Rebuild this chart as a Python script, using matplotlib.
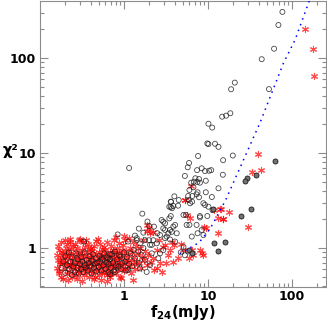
import matplotlib
matplotlib.use("Agg")
import matplotlib.pyplot as plt
from matplotlib.ticker import FixedLocator, NullFormatter, LogLocator
import numpy as np

# red asterisks: (f24 [mJy], chi2)
red_pts = [
    (0.16,0.62),(0.165,0.75),(0.17,0.55),(0.16,0.85),(0.175,0.68),(0.17,0.95),(0.18,0.5),(0.165,1.05),(0.18,0.8),(0.17,0.58),(0.175,0.72),(0.185,0.9),(0.18,1.15),
    (0.19,0.47),(0.2,0.6),(0.195,0.7),(0.2,0.78),(0.19,0.88),(0.205,1.0),(0.2,1.2),(0.21,0.53),(0.21,0.66),(0.205,0.82),(0.215,0.94),(0.217,0.46),(0.21,1.1),(0.2,0.72),
    (0.22,0.58),(0.225,0.68),(0.23,0.76),(0.22,0.87),(0.235,0.98),(0.23,1.25),(0.24,0.5),(0.24,0.63),(0.245,0.72),(0.24,0.84),(0.25,1.06),(0.25,0.55),(0.225,1.15),(0.235,0.66),
    (0.26,0.6),(0.26,0.78),(0.265,0.9),(0.27,0.52),(0.27,0.68),(0.275,1.0),(0.28,0.74),(0.28,0.58),(0.285,0.86),(0.29,0.64),(0.29,1.2),(0.26,1.1),(0.275,0.47),(0.29,0.8),
    (0.3,0.55),(0.3,0.7),(0.31,0.88),(0.31,0.62),(0.32,0.76),(0.323,1.15),(0.32,0.95),(0.33,0.52),(0.33,0.67),(0.335,0.83),(0.34,0.6),(0.34,1.02),(0.3,1.25),(0.315,0.45),
    (0.35,0.72),(0.35,0.56),(0.36,0.9),(0.36,0.65),(0.37,0.8),(0.37,1.1),(0.38,0.5),(0.38,0.62),(0.39,0.75),(0.39,0.97),(0.4,0.58),(0.4,0.85),(0.355,1.2),(0.385,0.68),
    (0.41,0.7),(0.42,0.55),(0.42,0.92),(0.43,0.64),(0.43,0.79),(0.44,1.05),(0.45,0.5),(0.45,0.72),(0.46,0.6),(0.46,0.86),(0.47,1.18),(0.47,0.68),(0.44,0.47),(0.41,1.0),
    (0.48,0.58),(0.49,0.75),(0.5,0.65),(0.5,0.9),(0.51,0.52),(0.52,0.8),(0.52,1.1),(0.53,0.62),(0.54,0.7),(0.54,0.98),(0.55,0.56),(0.55,0.84),(0.49,1.25),(0.53,0.46),
    (0.56,0.66),(0.57,0.78),(0.58,0.55),(0.58,1.02),(0.6,0.7),(0.6,0.88),(0.61,0.6),(0.62,0.75),(0.63,1.15),(0.63,0.52),(0.64,0.82),(0.65,0.64),(0.59,0.95),(0.62,0.45),
    (0.66,0.72),(0.67,0.58),(0.68,0.9),(0.69,0.66),(0.7,0.8),(0.7,1.05),(0.72,0.55),(0.72,0.7),(0.73,0.95),(0.74,0.62),(0.75,0.78),(0.75,1.2),(0.68,0.5),(0.76,0.86),
    (0.78,0.64),(0.79,0.74),(0.8,0.9),(0.8,0.55),(0.82,1.0),(0.83,0.68),(0.84,0.8),(0.85,0.6),(0.86,1.12),(0.87,0.72),(0.88,0.88),(0.9,0.5),(0.9,0.66),(0.81,1.3),
    (0.92,0.78),(0.94,0.62),(0.95,0.95),(0.96,0.7),(0.98,1.08),(1.0,0.58),(1.0,0.84),(1.02,0.68),(1.04,1.2),(1.05,0.76),(1.06,0.92),(1.08,0.6),(1.1,0.72),(0.99,1.35),
    (1.12,0.85),(1.15,0.65),(1.18,1.0),(1.2,0.75),(1.22,0.55),(1.25,0.9),(1.28,1.15),(1.3,0.68),(1.33,0.8),(1.36,0.6),(1.38,1.05),(1.29,0.46),(1.4,0.72),(1.16,1.28),
    (1.45,0.88),(1.5,0.7),(1.55,1.0),(1.6,0.62),(1.65,0.8),(1.7,1.2),(1.75,0.74),(1.8,0.93),(1.86,0.66),(1.9,1.51),(1.98,1.61),(1.86,1.75),(2.04,1.43),(1.95,0.85),
    (2.1,0.72),(2.23,1.48),(2.23,0.78),(2.27,0.59),(2.45,0.61),(2.5,0.95),(2.7,0.69),(2.8,0.56),(2.93,1.03),(3.07,1.08),(3.2,0.69),(3.5,0.95),(3.7,1.17),(3.86,0.72),(3.93,1.08),(2.6,1.2),(3.3,0.85),
    (4.4,0.78),(5.1,0.95),(6.0,0.78),(6.4,0.95),(6.7,0.84),(8.0,0.95),(8.4,0.88),(5.56,2.22),(6.1,2.05),(5.3,3.2),(6.2,4.46),(5.37,3.2),(8.96,1.65),(9.5,1.61),(8.8,0.84),(4.8,1.1),
    (11.9,2.49),(13.9,2.55),(17.9,2.41),(13.3,2.05),(14.9,2.02),(13.3,1.45),(29.7,1.68),(14.2,2.55),(15.2,2.02),(39.7,9.76),(43.1,6.6),(33.7,6.3),(141.6,200),(176,123),(184,64.6),
    (0.92,0.48),(0.68,0.53),
]

# open black circles
black_pts = [
    (0.18,0.62),(0.19,0.72),(0.2,0.55),(0.2,0.82),(0.21,0.66),(0.22,0.9),(0.22,0.6),(0.23,0.72),(0.24,0.52),(0.24,0.8),(0.25,0.64),(0.26,0.7),(0.26,0.56),(0.27,0.88),
    (0.28,0.62),(0.28,0.76),(0.29,0.54),(0.3,0.68),(0.31,0.8),(0.31,0.6),(0.32,0.72),(0.33,0.56),(0.34,0.66),(0.34,0.9),(0.35,0.62),(0.36,0.75),(0.37,0.58),(0.38,0.7),
    (0.39,0.82),(0.4,0.64),(0.41,0.54),(0.42,0.74),(0.43,0.86),(0.44,0.62),(0.45,0.68),(0.46,0.78),(0.47,0.57),(0.48,0.7),(0.5,0.63),(0.51,0.82),(0.52,0.72),(0.54,0.58),
    (0.55,0.76),(0.57,0.66),(0.58,0.88),(0.6,0.6),(0.62,0.7),(0.63,0.8),(0.65,0.56),(0.66,0.68),(0.68,0.76),(0.68,0.53),(0.7,0.62),(0.72,0.86),(0.74,0.7),(0.76,0.58),
    (0.78,0.56),(0.78,0.92),(0.8,0.66),(0.83,0.76),(0.84,1.39),(0.86,0.64),(0.88,0.84),(0.9,0.81),(0.92,0.6),(0.95,0.7),(1.0,0.9),(1.03,0.72),(1.05,0.58),(1.08,0.8),
    (1.12,1.17),(1.12,0.59),(1.15,0.68),(1.2,0.88),(1.25,0.64),(1.3,0.95),(1.35,0.78),(1.42,1.21),(1.42,1.27),(1.48,0.92),(1.5,0.7),(1.55,1.12),(1.55,0.61),(1.62,0.84),
    (1.7,1.0),(1.78,1.21),(1.78,0.75),(1.86,0.56),(1.98,1.21),(2.04,1.08),(2.04,0.66),(2.14,0.88),(0.334,1.17),(0.65,0.78),(0.54,0.78),(0.68,0.86),
    (1.5,1.6),(1.7,1.45),(1.35,1.35),(1.9,1.9),(1.65,2.3),(2.0,1.7),
    (3.6,3.07),(3.86,2.77),(3.46,2.72),(3.72,2.62),(5.1,2.23),(5.45,2.23),(3.6,2.17),(2.8,1.97),(2.93,1.89),(3.08,1.82),(3.46,2.05),(8.0,2.17),(9.2,2.84),(6.1,2.96),
    (2.93,1.61),(3.08,1.55),(3.53,1.55),(3.37,1.43),(3.86,1.68),(4.05,1.75),(3.7,1.48),(4.24,1.43),(2.49,1.43),(2.68,1.37),(3.22,1.32),(3.08,1.27),(3.53,1.23),(4.05,1.17),
    (5.56,1.75),(6.0,1.75),(7.3,1.75),(7.5,1.43),(8.4,1.55),(8.8,1.37),(6.4,1.32),(5.8,0.92),(5.1,1.03),(4.73,0.9),(5.3,0.84),(2.93,0.95),(2.68,0.88),(2.56,0.78),
    (2.23,1.21),(2.45,1.12),(2.14,1.08),(2.27,1.68),(11.3,2.51),
    (76.7,305),(68.7,222),(61,125),(43.5,97),(20.8,55),(18.8,46.8),(53,47),(18.4,26.2),(16.4,24.7),(14.7,24.1),(10.1,20.3),(11.2,18.5),(9.8,12.6),(10.1,12.4),
    (12.1,12.5),(13.3,11.6),(19.7,9.4),(15.1,8.4),(8.4,6.9),(9.2,6.45),(10.3,6.5),(10.9,6.6),(15,5.9),(9.4,5.1),(13.3,4.25),(9.4,3.86),(11.1,3.44),(8.0,2.1),
    (9.8,2.17),(8.8,2.96),(10.1,2.72),(1.15,6.95),(7.6,9.3),(5.94,7.85),(5.73,7.07),(7.4,6.6),(5.3,5.73),(7.06,5.42),(7.8,5.32),(6.8,4.99),(7.46,4.95),(8.0,4.87),
    (6.3,4.87),(6.0,4.08),(6.7,4.36),(7.5,3.86),(7.3,3.67),(7.8,3.42),(6.5,3.53),(5.8,3.53),(5.9,3.2),(3.97,3.5),(3.63,3.07),(4.48,3.2),(3.6,2.7),(4.4,2.79),(6.45,3.07),
]

# circles that look dark-filled in the original
dark_pts = [
    (62.8,8.2),(28.9,5.42),(27.6,5.1),(36.9,5.9),(32.2,2.57),(24.6,2.17),(11.9,1.12),(13.0,0.92),(15.9,1.17),(6.0,0.95),(6.4,0.88),(11.6,2.55),
]

# blue dotted model curve
curve_x = [4.6, 4.9, 7.8, 10.6, 16.2, 42, 78.8, 108.6, 160, 175]
curve_y = [0.87, 0.90, 1.14, 1.6, 3.2, 21.3, 88, 155, 398, 470]

rx, ry = np.array(red_pts).T
bx, by = np.array(black_pts).T
dx, dy = np.array(dark_pts).T

fig = plt.figure(figsize=(3.27, 3.24), dpi=100)
ax = fig.add_axes([0.1223, 0.1142, 0.875, 0.883])

ax.scatter(rx, ry, marker=(6, 2, 0), s=20, color='red', linewidths=0.8, alpha=0.7, zorder=2)
ax.scatter(bx, by, marker='o', s=13, facecolors='none', edgecolors='0.1', linewidths=0.6, alpha=0.8, zorder=3)
ax.scatter(dx, dy, marker='o', s=13, facecolors='0.45', edgecolors='0.1', linewidths=0.6, zorder=3)
ax.plot(curve_x, curve_y, color='blue', linestyle=(0, (1, 3)), linewidth=1.1, zorder=4)

ax.set_xscale('log')
ax.set_yscale('log')
ax.set_xlim(0.1, 254)
ax.set_ylim(0.389, 398)

ax.xaxis.set_major_locator(FixedLocator([1, 10, 100]))
ax.yaxis.set_major_locator(FixedLocator([1, 10, 100]))
ax.set_xticklabels(['1', '10', '100'])
ax.set_yticklabels(['1', '10', '100'])
ax.xaxis.set_minor_locator(LogLocator(base=10, subs=np.arange(2, 10), numticks=20))
ax.yaxis.set_minor_locator(LogLocator(base=10, subs=np.arange(2, 10), numticks=20))
ax.xaxis.set_minor_formatter(NullFormatter())
ax.yaxis.set_minor_formatter(NullFormatter())

ax.tick_params(which='both', direction='in', top=True, right=True, color='0.55', width=0.8)
ax.tick_params(which='major', length=5.5, labelsize=9, pad=3)
ax.tick_params(axis='x', which='major', pad=2)
ax.tick_params(which='minor', length=2.8)
for lab in ax.get_xticklabels() + ax.get_yticklabels():
    lab.set_fontweight('bold')
for sp in ax.spines.values():
    sp.set_color('0.55')
    sp.set_linewidth(0.8)

fig.text(0.033, 0.535, 'χ²', fontsize=10.5, fontweight='bold', ha='center', va='center')
fig.text(0.56, 0.036, r'$\mathbf{f_{24}(mJy)}$', fontsize=10.5, ha='center', va='center')

fig.savefig('out.png', dpi=100)
